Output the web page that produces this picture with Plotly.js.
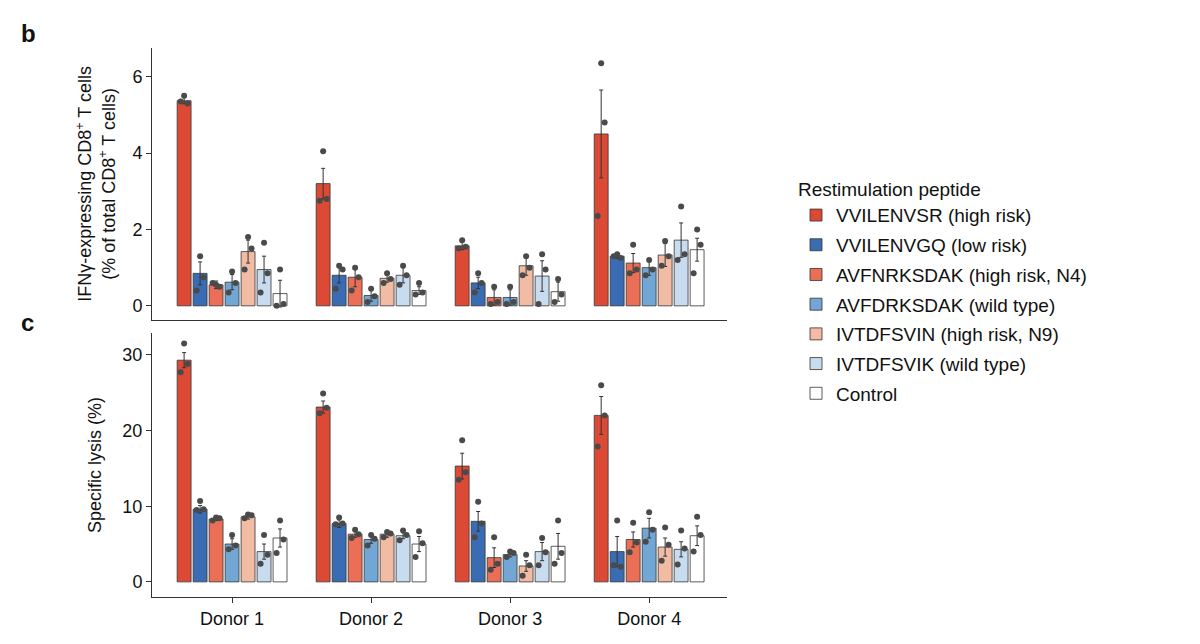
<html><head><script src="https://cdn.plot.ly/plotly-3.0.1.min.js"></script></head><body style="margin:0">
<div id="c" style="width:1200px;height:644px"></div>
<script>
const donors=["Donor 1","Donor 2","Donor 3","Donor 4"];
const peptides=["VVILENVSR (high risk)","VVILENVGQ (low risk)","AVFNRKSDAK (high risk, N4)","AVFDRKSDAK (wild type)","IVTDFSVIN (high risk, N9)","IVTDFSVIK (wild type)","Control"];
const colors=["#dc4a36","#3a6cb4","#ea6f56","#72a6d4","#f2bba3","#c8dbef","#ffffff"];
const ifnMean=[[5.37,3.2,1.57,4.5],[0.85,0.8,0.6,1.3],[0.55,0.75,0.22,1.12],[0.62,0.27,0.22,1.0],[1.42,0.72,1.05,1.33],[0.95,0.8,0.78,1.72],[0.32,0.4,0.37,1.47]];
const ifnErr=[[0.08,0.4,0.1,1.15],[0.3,0.2,0.15,0.06],[0.1,0.25,0.2,0.25],[0.2,0.15,0.2,0.2],[0.3,0.1,0.25,0.3],[0.35,0.2,0.4,0.45],[0.35,0.1,0.25,0.3]];
const ifnPts=[[[5.5,5.3,5.35],[4.05,2.8,2.75],[1.72,1.55,1.5],[6.35,4.8,2.35]],
[[1.3,0.75,0.4],[1.05,0.95,0.45],[0.85,0.6,0.35],[1.35,1.25,1.3]],
[[0.55,0.5,0.6],[1.0,0.75,0.4],[0.5,0.1,0.05],[1.6,0.95,0.85]],
[[0.9,0.6,0.35],[0.45,0.25,0.1],[0.5,0.1,0.05],[1.2,0.95,0.8]],
[[1.8,1.5,0.95],[0.85,0.7,0.6],[1.3,1.0,0.8],[1.7,1.3,1.05]],
[[1.65,0.85,0.35],[1.05,0.8,0.55],[1.35,0.95,0.05],[2.6,1.35,1.2]],
[[0.95,0.05,0],[0.6,0.35,0.3],[0.7,0.3,0.1],[2.0,1.6,0.85]]];
const lysMean=[[29.3,23.1,15.3,22.0],[9.6,7.7,8.0,4.0],[8.3,6.3,3.2,5.6],[5.0,5.6,3.6,7.1],[8.6,6.3,2.1,4.6],[4.0,6.1,4.0,4.3],[5.8,5.0,4.7,6.1]];
const lysErr=[[1.0,0.8,1.7,2.5],[0.5,0.5,1.3,2.0],[0.2,0.4,1.3,1.0],[0.7,0.5,0.3,1.3],[0.3,0.4,0.7,1.2],[1.0,0.4,1.2,1.0],[1.2,1.0,1.7,1.3]];
const lysPts=[[[31.5,28.8,27.7],[24.9,23,22.3],[18.7,14.5,13.5],[26,22,17.9]],
[[10.7,9.6,9.5],[8.5,7.7,7.6],[10.6,7.7,5.9],[8.1,2.0,2.2]],
[[8.5,8.4,8.1],[6.9,6.3,5.8],[5.9,2.4,1.6],[7.8,5.2,3.9]],
[[6.2,4.8,4.3],[6.2,5.7,4.8],[4.0,3.8,3.3],[9.2,6.9,5.3]],
[[8.9,8.8,8.4],[6.6,6.4,5.9],[3.6,2.2,0.8],[7.2,4.9,2.8]],
[[6.2,3.6,2.4],[6.8,6.2,5.5],[5.8,3.9,2.2],[6.8,4.4,2.3]],
[[8.1,5.6,3.8],[6.7,5.1,3.3],[8.1,3.8,2.4],[8.6,6.2,4.0]]];
const step=0.115, bw=0.1, jit=[0,0.025,-0.025];
const traces=[];
function addPanel(mean,err,pts,xa,ya,showLeg){
  peptides.forEach((p,i)=>{
    const xs=donors.map((d,j)=>j+1+(i-3)*step);
    traces.push({type:'bar',x:xs,y:mean[i],width:bw,name:p,showlegend:showLeg,legendgroup:p,xaxis:xa,yaxis:ya,
      marker:{color:colors[i],line:{color:'#333',width:0.8}},
      error_y:{type:'data',array:err[i],color:'#333',thickness:1,width:2}});
    const px=[],py=[];
    pts[i].forEach((arr,j)=>arr.forEach((v,k)=>{px.push(xs[j]+jit[k]);py.push(v);}));
    traces.push({type:'scatter',mode:'markers',x:px,y:py,xaxis:xa,yaxis:ya,showlegend:false,hoverinfo:'skip',
      marker:{color:'#4a4a4a',size:6}});
  });
}
addPanel(ifnMean,ifnErr,ifnPts,'x','y',true);
addPanel(lysMean,lysErr,lysPts,'x2','y2',false);
const F='Liberation Sans, Arial, sans-serif';
const ax={showgrid:false,zeroline:false,showline:true,linecolor:'#333',ticks:'outside',ticklen:5,tickcolor:'#333',tickfont:{size:18,color:'#111'}};
Plotly.newPlot('c',traces,{
  width:1200,height:644,margin:{l:152,r:473,t:48,b:47},paper_bgcolor:'#fff',plot_bgcolor:'#fff',
  font:{family:F,color:'#111'},barmode:'overlay',
  xaxis:Object.assign({},ax,{domain:[0,1],range:[0.424,4.56],anchor:'y',showticklabels:false,ticks:'',tickvals:[1,2,3,4]}),
  yaxis:Object.assign({},ax,{domain:[0.5046,1],range:[-0.37,6.75],tickvals:[0,2,4,6],
    title:{text:'IFNγ-expressing CD8<sup>+</sup> T cells<br>(% of total CD8<sup>+</sup> T cells)',font:{size:18},standoff:12}}),
  xaxis2:Object.assign({},ax,{domain:[0,1],range:[0.424,4.56],anchor:'y2',tickvals:[1,2,3,4],ticktext:donors}),
  yaxis2:Object.assign({},ax,{domain:[0,0.481],range:[-2,32.9],tickvals:[0,10,20,30],anchor:'x2',
    title:{text:'Specific lysis (%)',font:{size:18},standoff:16}}),
  legend:{x:1.12,y:0.775,xanchor:'left',yanchor:'top',font:{size:19},title:{text:'Restimulation peptide',font:{size:19}},tracegroupgap:2},
  annotations:[
    {text:'<b>b</b>',xref:'paper',yref:'paper',x:-0.232,y:1.055,showarrow:false,font:{size:24}},
    {text:'<b>c</b>',xref:'paper',yref:'paper',x:-0.232,y:0.5,showarrow:false,font:{size:24}}]
},{displayModeBar:false});
</script></body></html>
